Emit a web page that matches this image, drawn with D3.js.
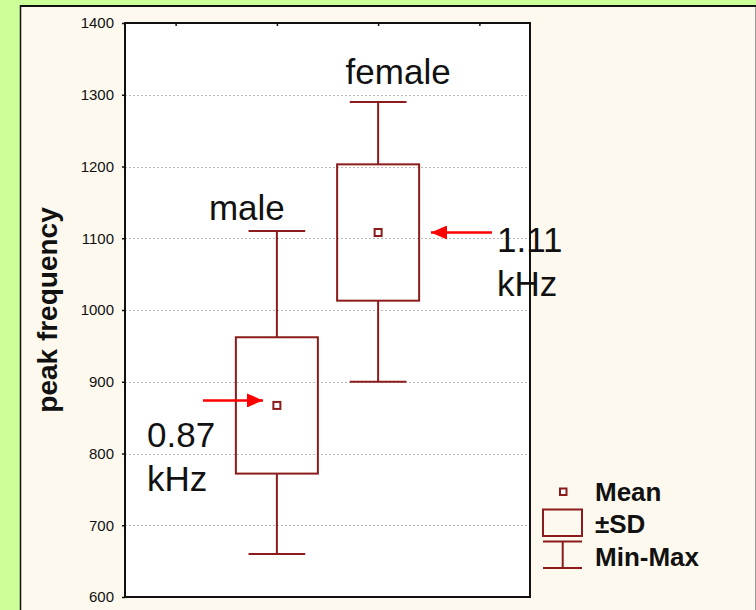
<!DOCTYPE html>
<html>
<head>
<meta charset="utf-8">
<script src="https://cdnjs.cloudflare.com/ajax/libs/d3/7.8.5/d3.min.js"></script>
<style>
  html, body { margin: 0; padding: 0; background: #ccff99; }
  svg { display: block; font-family: "Liberation Sans", Arial, sans-serif; }
</style>
</head>
<body>
<svg id="chart" width="756" height="610"></svg>
<script>
// Peak frequency by sex: mean, ±SD and min-max range
const groups = ["male", "female"];
const groupSlots = [2, 3];           // slot index on the category axis (4 slots)
const means = [867, 1108];
const sds = [95, 95];
const mins = [660, 900];
const maxs = [1110, 1290];
const yTicks = [600, 700, 800, 900, 1000, 1100, 1200, 1300, 1400];
const slotTicks = [1, 2, 3, 4];
const legendItems = ["Mean", "±SD", "Min-Max"];

const boxColor = "#8c1c1c";
const arrowColor = "#ff0000";

const svg = d3.select("#chart");

// cream panel with dark top/left edge
svg.append("rect").attr("x", 20).attr("y", 5).attr("width", 736).attr("height", 610)
  .attr("fill", "#fef9ee");
svg.append("line").attr("x1", 20).attr("x2", 756).attr("y1", 6).attr("y2", 6)
  .attr("stroke", "#111").attr("stroke-width", 2);
svg.append("line").attr("x1", 20.5).attr("x2", 20.5).attr("y1", 5).attr("y2", 610)
  .attr("stroke", "#111").attr("stroke-width", 1.5);
svg.append("line").attr("x1", 755.5).attr("x2", 755.5).attr("y1", 7).attr("y2", 610)
  .attr("stroke", "#999").attr("stroke-width", 1);

const plot = { left: 125, right: 530, top: 23, bottom: 597 };

const x = d3.scaleLinear().domain([0.5, 4.5]).range([plot.left, plot.right]);
const y = d3.scaleLinear().domain([600, 1400]).range([plot.bottom, plot.top]);

// plot background
svg.append("rect")
  .attr("x", plot.left).attr("y", plot.top)
  .attr("width", plot.right - plot.left).attr("height", plot.bottom - plot.top)
  .attr("fill", "#fff");

// dotted horizontal grid
svg.append("g").selectAll("line").data(yTicks.slice(1, -1)).join("line")
  .attr("x1", plot.left).attr("x2", plot.right)
  .attr("y1", d => Math.round(y(d)) + 0.5).attr("y2", d => Math.round(y(d)) + 0.5)
  .attr("stroke", "#b8b8b8").attr("stroke-width", 1).attr("stroke-dasharray", "2,2");

// y axis
const yAxis = d3.axisLeft(y).tickValues(yTicks).tickFormat(d3.format("d")).tickSize(3).tickPadding(8);
const gy = svg.append("g").attr("transform", `translate(${plot.left},0)`).call(yAxis);
gy.select(".domain").remove();
gy.selectAll("text").attr("font-size", 15).attr("fill", "#111")
  .attr("font-family", "'Liberation Sans', Arial, sans-serif");
gy.selectAll("line").attr("stroke", "#111").attr("stroke-width", 1.5);

// top tick marks at category slots
const xTop = d3.axisTop(x).tickValues(slotTicks).tickSize(-3).tickFormat("");
const gx = svg.append("g").attr("transform", `translate(0,${plot.top})`).call(xTop);
gx.select(".domain").remove();
gx.selectAll("line").attr("stroke", "#111").attr("stroke-width", 1.5);

// frame
svg.append("rect")
  .attr("x", plot.left).attr("y", plot.top)
  .attr("width", plot.right - plot.left).attr("height", plot.bottom - plot.top)
  .attr("fill", "none").attr("stroke", "#111").attr("stroke-width", 2);

// y title
svg.append("text")
  .attr("transform", `translate(57,${(plot.top + plot.bottom) / 2}) rotate(-90)`)
  .attr("text-anchor", "middle")
  .attr("font-size", 28).attr("font-weight", "bold").attr("fill", "#111")
  .text("peak frequency");

// box plots
const slotW = x(2) - x(1);
const boxW = slotW * 0.81;
const capW = slotW * 0.56;
const rows = groups.map((g, i) => ({
  name: g, cx: x(groupSlots[i]), mean: means[i], sd: sds[i], min: mins[i], max: maxs[i]
}));

const gb = svg.append("g").attr("fill", "none").attr("stroke", boxColor).attr("stroke-width", 2);
rows.forEach(r => {
  const hi = r.mean + r.sd, lo = r.mean - r.sd;
  gb.append("line").attr("x1", r.cx).attr("x2", r.cx).attr("y1", y(r.max)).attr("y2", y(hi));
  gb.append("line").attr("x1", r.cx).attr("x2", r.cx).attr("y1", y(lo)).attr("y2", y(r.min));
  gb.append("line").attr("x1", r.cx - capW / 2).attr("x2", r.cx + capW / 2).attr("y1", y(r.max)).attr("y2", y(r.max));
  gb.append("line").attr("x1", r.cx - capW / 2).attr("x2", r.cx + capW / 2).attr("y1", y(r.min)).attr("y2", y(r.min));
  gb.append("rect").attr("x", r.cx - boxW / 2).attr("y", y(hi))
    .attr("width", boxW).attr("height", y(lo) - y(hi));
  gb.append("rect").attr("x", r.cx - 3.5).attr("y", y(r.mean) - 3.5)
    .attr("width", 7).attr("height", 7).attr("fill", "#fff");
});

// group names
const nameOffsets = [{ dx: -30, dy: -11 }, { dx: 20, dy: -18 }];
rows.forEach((r, i) => {
  svg.append("text")
    .attr("x", r.cx + nameOffsets[i].dx).attr("y", y(r.max) + nameOffsets[i].dy)
    .attr("text-anchor", "middle").attr("font-size", 35).attr("fill", "#111")
    .text(r.name);
});

// arrows pointing at the means, with value labels in kHz
const fmt = d3.format(".2f");
const defs = svg.append("defs");
defs.append("marker").attr("id", "head")
  .attr("viewBox", "0 0 16 14").attr("refX", 16).attr("refY", 7)
  .attr("markerUnits", "userSpaceOnUse")
  .attr("markerWidth", 16).attr("markerHeight", 14).attr("orient", "auto")
  .append("path").attr("d", "M0,0 L16,7 L0,14 Z").attr("fill", arrowColor);

const arrowSpecs = [
  { x1: 203, x2: 263, dy: -5, tx: 147, ty: 447 },
  { x1: 492, x2: 431, dy: 0, tx: 497, ty: 252 }
];
rows.forEach((r, i) => {
  const a = arrowSpecs[i];
  const ay = y(r.mean) + a.dy;
  svg.append("line").attr("x1", a.x1).attr("x2", a.x2).attr("y1", ay).attr("y2", ay)
    .attr("stroke", arrowColor).attr("stroke-width", 2.5).attr("marker-end", "url(#head)");
  const t = svg.append("text").attr("x", a.tx).attr("y", a.ty)
    .attr("font-size", 35).attr("fill", "#111");
  t.append("tspan").attr("x", a.tx).text(fmt(r.mean / 1000));
  t.append("tspan").attr("x", a.tx).attr("dy", 44).text("kHz");
});

// legend
const lg = svg.append("g");
lg.append("rect").attr("x", 560).attr("y", 488.5).attr("width", 6.5).attr("height", 6.5)
  .attr("fill", "#fff").attr("stroke", boxColor).attr("stroke-width", 2);
lg.append("rect").attr("x", 543).attr("y", 509.5).attr("width", 39).attr("height", 26.5)
  .attr("fill", "none").attr("stroke", boxColor).attr("stroke-width", 2);
lg.append("line").attr("x1", 543).attr("x2", 582).attr("y1", 541.5).attr("y2", 541.5)
  .attr("stroke", boxColor).attr("stroke-width", 2);
lg.append("line").attr("x1", 543).attr("x2", 582).attr("y1", 568).attr("y2", 568)
  .attr("stroke", boxColor).attr("stroke-width", 2);
lg.append("line").attr("x1", 562.7).attr("x2", 562.7).attr("y1", 541.5).attr("y2", 568)
  .attr("stroke", boxColor).attr("stroke-width", 2);
const legendBaselines = [500.5, 533, 566];
lg.selectAll("text").data(legendItems).join("text")
  .attr("x", 595).attr("y", (d, i) => legendBaselines[i])
  .attr("font-size", 26).attr("font-weight", "bold").attr("fill", "#111")
  .text(d => d);
</script>
</body>
</html>
